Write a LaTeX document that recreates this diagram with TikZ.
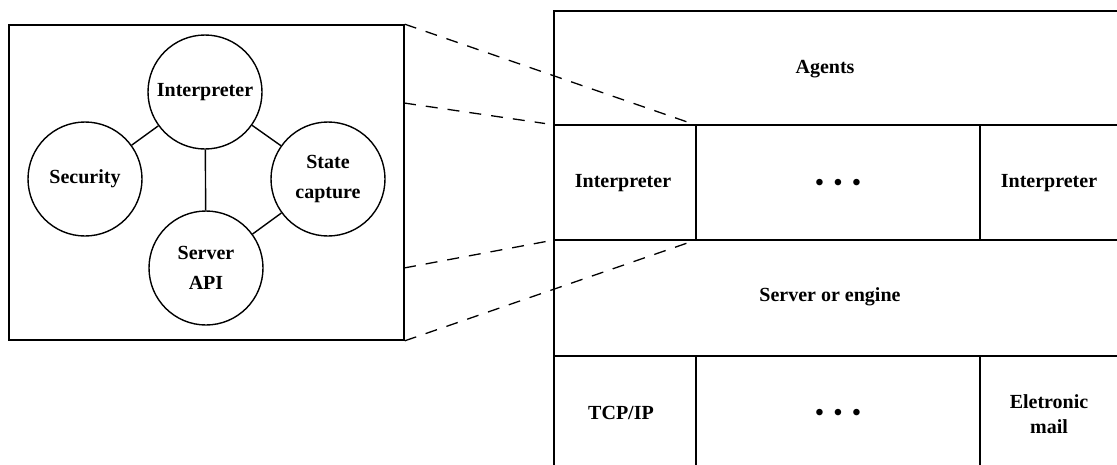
\documentclass[tikz,border=0pt]{standalone}
\usepackage{fontspec}
\setmainfont{Liberation Serif}
\begin{document}
\begin{tikzpicture}[x=1pt,y=-1pt,
  every node/.style={font=\fontsize{20}{30}\selectfont\bfseries},
  part/.style={draw, circle, minimum size=114pt, inner sep=0pt, align=center, line width=1.4pt},
  frame/.style={draw, line width=1.6pt},
  label/.style={align=center, inner sep=0pt},
  dots/.style={inner sep=0pt, font=\fontsize{24}{30}\selectfont\bfseries},
  link/.style={line width=1.4pt},
  zoomline/.style={line width=1.3pt, dash pattern=on 12pt off 10pt}]
\useasboundingbox (0,0) rectangle (1117,464);
\clip (0,0) rectangle (1117,464);

% ---- detail of one interpreter ----
\node[frame, minimum width=395pt, minimum height=315pt, inner sep=0pt] (box) at (206.5,182.5) {};
\node[part] (interp)   at (205,92)  {Interpreter};
\node[part] (security) at (85,179)  {Security};
\node[part] (state)    at (328,179) {State\\capture};
\node[part] (server)   at (206,268) {Server\\API};
\draw[link] (interp) -- (security);
\draw[link] (interp) -- (state);
\draw[link] (interp) -- (server);
\draw[link] (state) -- (server);

% ---- layered architecture ----
\draw[frame] (1125,11) -- (554,11) -- (554,475);
\draw[frame] (554,125) -- (1125,125);
\draw[frame] (554,240) -- (1125,240);
\draw[frame] (554,356) -- (1125,356);
\draw[frame] (696,125) -- (696,240);
\draw[frame] (980,125) -- (980,240);
\draw[frame] (696,356) -- (696,475);
\draw[frame] (980,356) -- (980,475);

\node[label] (agents)  at (825,69)   {Agents};
\node[label] (interpL) at (623,183)  {Interpreter};
\node[dots]  (dotsA)   at (838,185)  {•\hspace{0.42em}•\hspace{0.42em}•};
\node[label] (interpR) at (1049,183) {Interpreter};
\node[label] (engine)  at (830,297)  {Server or engine};
\node[label] (tcp)     at (621,413)  {TCP/IP};
\node[dots]  (dotsB)   at (838,415)  {•\hspace{0.42em}•\hspace{0.42em}•};
\node[label, font=\fontsize{20}{25}\selectfont\bfseries] (mail) at (1049,414) {Eletronic\\mail};

% ---- zoom guides ----
\coordinate (b1) at (box.north east);
\coordinate (b2) at (404,103);
\coordinate (b3) at (404,268);
\coordinate (b4) at (box.south east);
\coordinate (c1) at (696,125);
\coordinate (c2) at (545,123.5);
\coordinate (c3) at (546,241.5);
\coordinate (c4) at (696,240);
\draw[zoomline] (b1) -- (c1);
\draw[zoomline] (b2) -- (c2);
\draw[zoomline] (b3) -- (c3);
\draw[zoomline] (b4) -- (c4);
\end{tikzpicture}
\end{document}
